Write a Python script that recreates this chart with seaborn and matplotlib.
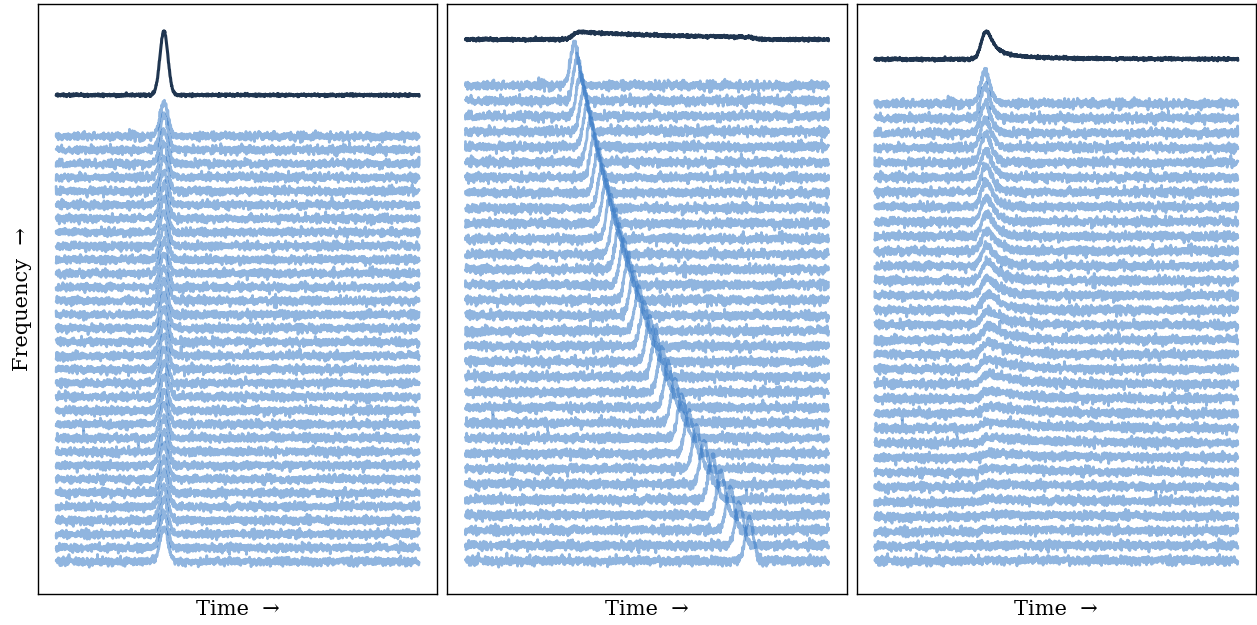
import numpy as np
import pandas as pd
import matplotlib
matplotlib.use("Agg")
import matplotlib.pyplot as plt
import seaborn as sns

# ---------------------------------------------------------------------------
# Pulse parameters (time axis runs 0..1, one trace per frequency channel,
# channel 0 = highest frequency, drawn at the top)
# ---------------------------------------------------------------------------
N_CHAN = 32
N_SAMP = 1500
PULSE_T0 = 0.297          # arrival time at the top of the band
PULSE_WIDTH = 0.011       # gaussian sigma of the intrinsic pulse
PULSE_AMP = [2.45, 2.75, 2.6]   # peak height (channel spacing = 1) per panel

# arrival time per channel for the dispersed pulse (middle panel)
ARRIVAL_DISPERSED = [
    0.3000, 0.3085, 0.3173, 0.3263, 0.3357, 0.3454, 0.3554, 0.3658,
    0.3765, 0.3876, 0.3991, 0.4111, 0.4234, 0.4363, 0.4496, 0.4634,
    0.4777, 0.4927, 0.5082, 0.5243, 0.5411, 0.5586, 0.5768, 0.5959,
    0.6157, 0.6364, 0.6580, 0.6806, 0.7042, 0.7290, 0.7548, 0.7820,
]

# exponential scattering timescale per channel (right panel)
SCATTER_TAU = [
    0.0090, 0.0099, 0.0108, 0.0119, 0.0131, 0.0144, 0.0161, 0.0179,
    0.0198, 0.0221, 0.0248, 0.0279, 0.0314, 0.0356, 0.0404, 0.0461,
    0.0528, 0.0609, 0.0705, 0.0822, 0.0963, 0.1136, 0.1350, 0.1616,
    0.1950, 0.2376, 0.2927, 0.3644, 0.4596, 0.5883, 0.7647, 1.0136,
]

NOISE_SIGMA = 0.14        # radiometer noise per channel
PROFILE_GAIN = 1.9        # scaling of the band-averaged profile
PROFILE_GAP = 3.0         # offset of the profile above the top channel

CHANNEL_COLOR = "#3d7ec8"
PROFILE_COLOR = "#1f3550"

# ---------------------------------------------------------------------------
t = np.linspace(0.0, 1.0, N_SAMP)
dt = t[1] - t[0]


def gaussian(t0, amp):
    return amp * np.exp(-0.5 * ((t - t0) / PULSE_WIDTH) ** 2)


def scattered(t0, amp, tau):
    g = gaussian(t0, amp)
    k_t = np.arange(0, 8 * tau + dt, dt)
    kernel = np.exp(-k_t / tau)
    kernel /= kernel.sum()
    return np.convolve(g, kernel)[:N_SAMP]


rng = np.random.default_rng(11)
noise = rng.normal(0.0, NOISE_SIGMA, size=(N_CHAN, N_SAMP))

panels = [
    np.array([gaussian(PULSE_T0, PULSE_AMP[0]) for _ in range(N_CHAN)]),
    np.array([gaussian(ARRIVAL_DISPERSED[k], PULSE_AMP[1]) for k in range(N_CHAN)]),
    np.array([scattered(PULSE_T0, PULSE_AMP[2], SCATTER_TAU[k]) for k in range(N_CHAN)]),
]

sns.set_style("white")
plt.rcParams["font.family"] = ["DejaVu Serif"]
plt.rcParams["text.color"] = "black"
plt.rcParams["axes.labelcolor"] = "black"

fig, axes = plt.subplots(1, 3, figsize=(12.57, 6.25), dpi=100)
fig.subplots_adjust(left=0.0302, right=0.9992, bottom=0.0496, top=0.9936, wspace=0.025)

for i, (ax, signal) in enumerate(zip(axes, panels)):
    dyn = signal + noise
    offsets = (N_CHAN - 1 - np.arange(N_CHAN))[:, None]
    df = pd.DataFrame({
        "time": np.tile(t, N_CHAN),
        "value": (dyn + offsets).ravel(),
        "channel": np.repeat(np.arange(N_CHAN), N_SAMP),
    })
    sns.lineplot(data=df, x="time", y="value", units="channel", estimator=None,
                 color=CHANNEL_COLOR, alpha=0.57, linewidth=2.0, sort=False,
                 legend=False, ax=ax)

    profile = dyn.mean(axis=0) * PROFILE_GAIN + (N_CHAN - 1 + PROFILE_GAP)
    sns.lineplot(x=t, y=profile, color=PROFILE_COLOR, linewidth=2.2, ax=ax)

    ax.set_xticks([])
    ax.set_yticks([])
    ax.set_xlabel("Time  →", fontsize=15)
    ax.set_ylabel("Frequency  →" if i == 0 else "", fontsize=15)
    for sp in ax.spines.values():
        sp.set_visible(True)
        sp.set_color("black")
        sp.set_linewidth(1.0)

fig.savefig("out.png", dpi=100)
